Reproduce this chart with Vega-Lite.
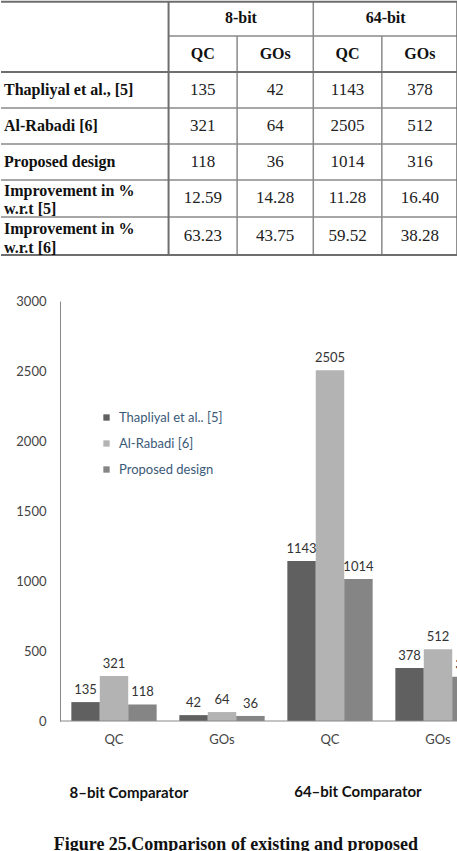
{
  "$schema": "https://vega.github.io/schema/vega-lite/v6.json",
  "padding": 0,
  "spacing": 0,
  "background": "white",
  "resolve": {"legend": {"color": "independent"}},
  "config": {"view": {"stroke": null}},
  "vconcat": [
    {
      "width": 398,
      "height": 294,
      "data": {"values": [
        {"t": "8-bit", "cx": 3.15, "cy": 0.48, "kind": "head"},
        {"t": "64-bit", "cx": 5.05, "cy": 0.48, "kind": "head"},
        {"t": "QC", "cx": 2.65, "cy": 1.46, "kind": "head"},
        {"t": "GOs", "cx": 3.6, "cy": 1.46, "kind": "head"},
        {"t": "QC", "cx": 4.55, "cy": 1.46, "kind": "head"},
        {"t": "GOs", "cx": 5.5, "cy": 1.46, "kind": "head"},
        {"t": "Thapliyal et al., [5]", "cx": 0.04, "cy": 2.455, "kind": "label"},
        {"t": "Al-Rabadi [6]", "cx": 0.04, "cy": 3.445, "kind": "label"},
        {"t": "Proposed design", "cx": 0.04, "cy": 4.435, "kind": "label"},
        {"t": "Improvement in %", "cx": 0.04, "cy": 5.24, "kind": "label"},
        {"t": "w.r.t [5]", "cx": 0.04, "cy": 5.73, "kind": "label"},
        {"t": "Improvement in %", "cx": 0.04, "cy": 6.28, "kind": "label"},
        {"t": "w.r.t [6]", "cx": 0.04, "cy": 6.81, "kind": "label"},
        {"t": "135", "cx": 2.65, "cy": 2.455, "kind": "value"},
        {"t": "42", "cx": 3.6, "cy": 2.455, "kind": "value"},
        {"t": "1143", "cx": 4.55, "cy": 2.455, "kind": "value"},
        {"t": "378", "cx": 5.5, "cy": 2.455, "kind": "value"},
        {"t": "321", "cx": 2.65, "cy": 3.445, "kind": "value"},
        {"t": "64", "cx": 3.6, "cy": 3.445, "kind": "value"},
        {"t": "2505", "cx": 4.55, "cy": 3.445, "kind": "value"},
        {"t": "512", "cx": 5.5, "cy": 3.445, "kind": "value"},
        {"t": "118", "cx": 2.65, "cy": 4.435, "kind": "value"},
        {"t": "36", "cx": 3.6, "cy": 4.435, "kind": "value"},
        {"t": "1014", "cx": 4.55, "cy": 4.435, "kind": "value"},
        {"t": "316", "cx": 5.5, "cy": 4.435, "kind": "value"},
        {"t": "12.59", "cx": 2.65, "cy": 5.44, "kind": "value"},
        {"t": "14.28", "cx": 3.6, "cy": 5.44, "kind": "value"},
        {"t": "11.28", "cx": 4.55, "cy": 5.44, "kind": "value"},
        {"t": "16.40", "cx": 5.5, "cy": 5.44, "kind": "value"},
        {"t": "63.23", "cx": 2.65, "cy": 6.475, "kind": "value"},
        {"t": "43.75", "cx": 3.6, "cy": 6.475, "kind": "value"},
        {"t": "59.52", "cx": 4.55, "cy": 6.475, "kind": "value"},
        {"t": "38.28", "cx": 5.5, "cy": 6.475, "kind": "value"}
      ]},
      "layer": [
        {
          "data": {"values": [
            {"x1": 2.2, "x2": 6, "y1": 0.965, "y2": 0.965},
            {"x1": 0, "x2": 6, "y1": 2.948, "y2": 2.948},
            {"x1": 0, "x2": 6, "y1": 3.94, "y2": 3.94},
            {"x1": 0, "x2": 6, "y1": 4.93, "y2": 4.93},
            {"x1": 0, "x2": 6, "y1": 5.95, "y2": 5.95},
            {"x1": 3.1, "x2": 3.1, "y1": 0.965, "y2": 7},
            {"x1": 4.1, "x2": 4.1, "y1": 0, "y2": 7},
            {"x1": 5.0, "x2": 5.0, "y1": 0.965, "y2": 7}
          ]},
          "mark": {"type": "rule", "color": "#8a8a8a", "strokeWidth": 1.5},
          "encoding": {
            "x": {"field": "x1", "type": "quantitative", "scale": {"domain": [0, 6], "range": [-59, 398], "nice": false, "zero": false}, "axis": null},
            "x2": {"field": "x2"},
            "y": {"field": "y1", "type": "quantitative", "scale": {"domain": [0, 8.1], "nice": false, "zero": false, "reverse": true}, "axis": null},
            "y2": {"field": "y2"}
          }
        },
        {
          "data": {"values": [
            {"x1": 0, "x2": 6, "y1": 0.02, "y2": 0.02},
            {"x1": 0, "x2": 6, "y1": 1.956, "y2": 1.956},
            {"x1": 0, "x2": 6, "y1": 7, "y2": 7},
            {"x1": 2.2, "x2": 2.2, "y1": 0, "y2": 7},
            {"x1": 5.99, "x2": 5.99, "y1": 0, "y2": 7}
          ]},
          "mark": {"type": "rule", "color": "#6e6e6e", "strokeWidth": 2},
          "encoding": {
            "x": {"field": "x1", "type": "quantitative"},
            "x2": {"field": "x2"},
            "y": {"field": "y1", "type": "quantitative"},
            "y2": {"field": "y2"}
          }
        },
        {
          "transform": [{"filter": "datum.kind === 'head'"}],
          "mark": {"type": "text", "font": "Liberation Serif", "fontWeight": "bold", "fontSize": 16, "color": "#111", "align": "center", "baseline": "middle"},
          "encoding": {
            "x": {"field": "cx", "type": "quantitative"},
            "y": {"field": "cy", "type": "quantitative"},
            "text": {"field": "t"}
          }
        },
        {
          "transform": [{"filter": "datum.kind === 'label'"}],
          "mark": {"type": "text", "font": "Liberation Serif", "fontWeight": "bold", "fontSize": 16, "color": "#111", "align": "left", "baseline": "middle"},
          "encoding": {
            "x": {"field": "cx", "type": "quantitative"},
            "y": {"field": "cy", "type": "quantitative"},
            "text": {"field": "t"}
          }
        },
        {
          "transform": [{"filter": "datum.kind === 'value'"}],
          "mark": {"type": "text", "font": "Liberation Serif", "fontSize": 17, "color": "#222", "align": "center", "baseline": "middle"},
          "encoding": {
            "x": {"field": "cx", "type": "quantitative"},
            "y": {"field": "cy", "type": "quantitative"},
            "text": {"field": "t"}
          }
        }
      ]
    },
    {
      "width": 398,
      "height": 420,
      "data": {"values": [
        {"cat": "8-bit QC", "series": "Thapliyal et al.. [5]", "v": 135},
        {"cat": "8-bit QC", "series": "Al-Rabadi [6]", "v": 321},
        {"cat": "8-bit QC", "series": "Proposed design", "v": 118},
        {"cat": "8-bit GOs", "series": "Thapliyal et al.. [5]", "v": 42},
        {"cat": "8-bit GOs", "series": "Al-Rabadi [6]", "v": 64},
        {"cat": "8-bit GOs", "series": "Proposed design", "v": 36},
        {"cat": "64-bit QC", "series": "Thapliyal et al.. [5]", "v": 1143},
        {"cat": "64-bit QC", "series": "Al-Rabadi [6]", "v": 2505},
        {"cat": "64-bit QC", "series": "Proposed design", "v": 1014},
        {"cat": "64-bit GOs", "series": "Thapliyal et al.. [5]", "v": 378},
        {"cat": "64-bit GOs", "series": "Al-Rabadi [6]", "v": 512},
        {"cat": "64-bit GOs", "series": "Proposed design", "v": 316}
      ]},
      "layer": [
        {
          "mark": {"type": "bar", "clip": true},
          "encoding": {
            "x": {"field": "cat", "type": "nominal", "sort": ["8-bit QC", "8-bit GOs", "64-bit QC", "64-bit GOs"],
                  "scale": {"range": [0, 432], "paddingInner": 0.21, "paddingOuter": 0.105},
                  "axis": {"title": null, "domain": false, "ticks": false, "labelAngle": 0, "labelExpr": "split(datum.label, ' ')[1]", "labelPadding": 12, "labelFont": "Lato", "labelFontSize": 13, "labelColor": "#444"}},
            "xOffset": {"field": "series", "sort": ["Thapliyal et al.. [5]", "Al-Rabadi [6]", "Proposed design"]},
            "y": {"field": "v", "type": "quantitative", "scale": {"domain": [0, 3000], "nice": false},
                  "axis": {"title": null, "values": [0, 500, 1000, 1500, 2000, 2500, 3000], "format": "d", "grid": false, "ticks": false, "domainColor": "#888", "labelFont": "Lato", "labelFontSize": 13, "labelColor": "#444", "labelPadding": 14, "minExtent": 59}},
            "color": {"field": "series", "type": "nominal", "sort": ["Thapliyal et al.. [5]", "Al-Rabadi [6]", "Proposed design"],
                      "scale": {"range": ["#606060", "#b3b3b3", "#858585"]},
                      "legend": {"title": null, "orient": "none", "legendX": 40, "legendY": 110, "symbolType": "square", "symbolSize": 40, "symbolStrokeWidth": 0, "labelFont": "Lato", "labelFontSize": 13, "labelColor": "#3b5a78", "rowPadding": 12, "labelOffset": 6, "padding": 0}}
          }
        },
        {
          "mark": {"type": "text", "clip": true, "baseline": "bottom", "dy": -5, "font": "Lato", "fontSize": 13, "color": "#333"},
          "encoding": {
            "x": {"field": "cat", "type": "nominal", "sort": ["8-bit QC", "8-bit GOs", "64-bit QC", "64-bit GOs"]},
            "xOffset": {"field": "series", "sort": ["Thapliyal et al.. [5]", "Al-Rabadi [6]", "Proposed design"]},
            "y": {"field": "v", "type": "quantitative"},
            "text": {"field": "v"}
          }
        },
        {
          "data": {"values": [{"base": 0}]},
          "mark": {"type": "rule", "color": "#888", "strokeWidth": 1},
          "encoding": {"y": {"field": "base", "type": "quantitative"}}
        }
      ]
    },
    {
      "width": 398,
      "height": 106,
      "data": {"values": [
        {"t": "8–bit Comparator", "px": 0.28, "py": 0.44, "kind": "sub"},
        {"t": "64–bit Comparator", "px": 0.781, "py": 0.43, "kind": "sub"},
        {"t": "Figure 25.Comparison of existing and proposed", "px": 0.514, "py": 0.98, "kind": "cap"}
      ]},
      "layer": [
        {
          "transform": [{"filter": "datum.kind === 'sub'"}],
          "mark": {"type": "text", "font": "Lato", "fontWeight": "bold", "fontSize": 15, "color": "#111", "align": "center", "baseline": "middle"},
          "encoding": {
            "x": {"field": "px", "type": "quantitative", "scale": {"domain": [0, 1], "range": [-59, 398], "nice": false}, "axis": null},
            "y": {"field": "py", "type": "quantitative", "scale": {"domain": [0, 1], "nice": false, "reverse": true}, "axis": null},
            "text": {"field": "t"}
          }
        },
        {
          "transform": [{"filter": "datum.kind === 'cap'"}],
          "mark": {"type": "text", "font": "Liberation Serif", "fontWeight": "bold", "fontSize": 18, "color": "#111", "align": "center", "baseline": "alphabetic"},
          "encoding": {
            "x": {"field": "px", "type": "quantitative"},
            "y": {"field": "py", "type": "quantitative"},
            "text": {"field": "t"}
          }
        }
      ]
    }
  ]
}
